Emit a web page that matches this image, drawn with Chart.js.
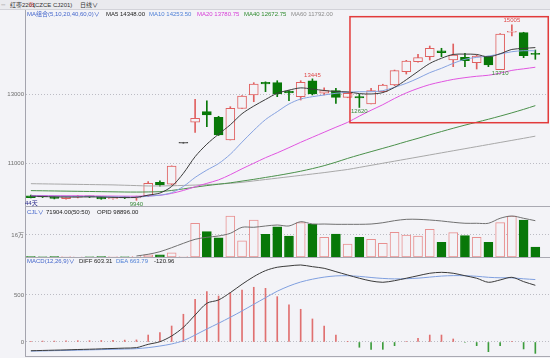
<!DOCTYPE html>
<html>
<head>
<meta charset="utf-8">
<script src="https://cdn.jsdelivr.net/npm/chart.js@4.4.1/dist/chart.umd.min.js"></script>
<style>
  body { margin: 0; width: 550px; height: 358px; background: #f3f3f7; overflow: hidden; position: relative;
         font-family: "Liberation Sans", Arial, "Noto Sans CJK SC", sans-serif; font-size: 6px; }
  .strip { position: absolute; left: 0; top: 0; width: 550px; height: 9px; background: #eaeaee; border-bottom: 1px solid #d2d2d8; }
  canvas { position: absolute; left: 0; }
  .t { position: absolute; white-space: nowrap; line-height: 6px; }
  .hl { position: absolute; left: 25px; width: 525px; height: 1px; background: #a9a9b2; }
</style>
</head>
<body>
<div class="strip"></div>
<div class="t" style="left:1px;top:2px;color:#777;font-size:4px;letter-spacing:-0.5px">○○</div>
<div class="t" style="left:10px;top:2px;color:#333">红枣2201</div>
<div class="t" style="left:28px;top:2px;color:#e03030">※</div>
<div class="t" style="left:33px;top:2px;color:#333">(CZCE CJ201)</div>
<div class="t" style="left:80px;top:2px;color:#333">日线∨</div>

<canvas id="price" width="550" height="196" style="top:10px"></canvas>
<canvas id="vol" width="550" height="51" style="top:206px"></canvas>
<canvas id="macd" width="550" height="99" style="top:257px"></canvas>
<div class="hl" style="top:206px"></div>
<div class="hl" style="top:257px"></div>
<div class="hl" style="top:356px"></div>

<div class="t" style="left:27px;top:11px;color:#4466cc">MA组合(5,10,20,40,60,0)∨</div>
<div class="t" style="left:106px;top:11px;color:#222">MA5 14348.00</div>
<div class="t" style="left:149px;top:11px;color:#4d7fd6">MA10 14253.50</div>
<div class="t" style="left:197px;top:11px;color:#d63cd6">MA20 13780.75</div>
<div class="t" style="left:244px;top:11px;color:#2e8b2e">MA40 12672.75</div>
<div class="t" style="left:291px;top:11px;color:#8c8c8c">MA60 11792.00</div>
<div class="t" style="left:25px;top:200px;color:#2a2a8a">44天</div>

<div class="t" style="left:27px;top:209px;color:#4466cc">CJL∨</div>
<div class="t" style="left:46px;top:209px;color:#222">71904.00(50:50)</div>
<div class="t" style="left:97px;top:209px;color:#222">OPID 98896.00</div>

<div class="t" style="left:27px;top:258px;color:#4466cc">MACD(12,26,9)∨</div>
<div class="t" style="left:79px;top:258px;color:#222">DIFF 603.31</div>
<div class="t" style="left:116px;top:258px;color:#4d7fd6">DEA 663.79</div>
<div class="t" style="left:154px;top:258px;color:#222">-120.96</div>

<script>
// daily candles, 44 days
const open = [10070, 10050, 10040, 9990, 10030, 10045, 10025, 9985, 10020, 10010,
  10074, 10460, 10403, 11586, 12192, 12498, 12336, 11681, 12590, 12980,
  13346, 13335, 13095, 12931, 13392, 13029, 13104, 12913, 12931, 12720,
  13075, 13268, 13653, 13941, 14085, 14258, 13990, 14066, 13912, 14085,
  13710, 14790, 14778, 14183];
const high = [10090, 10070, 10060, 10050, 10080, 10060, 10040, 10030, 10040, 10060,
  10480, 10500, 10935, 11586, 12856, 12815, 12365, 12642, 12960, 13335,
  13360, 13392, 13110, 13392, 13445, 13185, 13173, 13060, 13000, 13173,
  13290, 13700, 13980, 14154, 14394, 14328, 14452, 14183, 14134, 14100,
  14750, 15005, 14790, 14278];
const low = [10010, 10020, 9980, 9970, 10010, 10020, 9970, 9970, 9990, 9940,
  10050, 10350, 10380, 11586, 11903, 12065, 11810, 11681, 12590, 12786,
  13075, 12931, 12815, 12835, 12980, 12980, 12740, 12900, 12620, 12720,
  13060, 13250, 13585, 13930, 13990, 14085, 13797, 13797, 13730, 13797,
  13710, 14682, 14057, 14010];
const close = [10020, 10040, 9995, 10040, 10065, 10040, 9980, 10015, 10010, 10040,
  10431, 10382, 10931, 11586, 12307, 12403, 11825, 12596, 12945, 13297,
  13300, 13009, 13040, 13346, 13009, 13104, 12913, 13029, 12893, 13104,
  13268, 13681, 13961, 14057, 14328, 14200, 14134, 13970, 14105, 13845,
  14740, 14810, 14114, 14154];

const ma5 = [10060, 10050, 10040, 10035, 10035, 10040, 10035, 10025, 10020, 10025,
  10090, 10150, 10340, 10720, 11200, 11560, 11850, 12120, 12440, 12660,
  12850, 13029, 13120, 13185, 13150, 13110, 13080, 13070, 13020, 13009,
  13050, 13200, 13420, 13660, 13890, 14040, 14150, 14160, 14150, 14080,
  14170, 14295, 14325, 14348];
const ma10 = [10065, 10060, 10058, 10055, 10052, 10050, 10045, 10040, 10035, 10030,
  10060, 10090, 10160, 10340, 10600, 10812, 11000, 11270, 11620, 11960,
  12270, 12498, 12720, 12864, 12931, 12980, 13029, 13058, 13075, 13075,
  13104, 13202, 13317, 13462, 13624, 13750, 13894, 14010, 14066, 14105,
  14163, 14229, 14258, 14254];
const ma20 = [10080, 10078, 10075, 10072, 10070, 10068, 10065, 10062, 10060, 10058,
  10070, 10085, 10140, 10225, 10330, 10430, 10530, 10680, 10850, 11010,
  11170, 11310, 11460, 11615, 11760, 11905, 12050, 12190, 12370, 12540,
  12700, 12880, 13040, 13170, 13280, 13360, 13430, 13480, 13520, 13550,
  13610, 13690, 13735, 13781];
const ma40 = [10220, 10215, 10210, 10205, 10200, 10195, 10190, 10185, 10180, 10178,
  10182, 10190, 10225, 10270, 10320, 10365, 10405, 10445, 10495, 10545,
  10600, 10655, 10715, 10780, 10855, 10940, 11040, 11150, 11250, 11345,
  11440, 11535, 11635, 11730, 11830, 11925, 12020, 12110, 12195, 12280,
  12370, 12465, 12565, 12673];
const ma60 = [10420, 10415, 10410, 10405, 10400, 10395, 10390, 10385, 10375, 10365,
  10355, 10355, 10360, 10370, 10380, 10395, 10410, 10430, 10460, 10500,
  10540, 10580, 10620, 10660, 10700, 10740, 10785, 10830, 10890, 10950,
  11010, 11070, 11130, 11190, 11250, 11310, 11370, 11430, 11490, 11550,
  11610, 11670, 11730, 11792];

const vol = [2500, 1800, 3200, 2600, 2000, 1500, 2800, 2200, 1900, 4500,
  15000, 15000, 31000, 3000, 245000, 184000, 140000, 298000, 118000, 269000,
  165000, 220000, 153000, 250000, 238000, 143000, 167000, 94000, 143000, 128000,
  99000, 179000, 160000, 152000, 201000, 107000, 177000, 155000, 143000, 107000,
  250000, 298000, 269000, 71904];
const openInt = [null, null, null, null, null, null, null, null, null, 41600,
  44400, 48600, 55100, 62200, 68700, 72000, 74100, 78400, 88200, 88200,
  90300, 91900, 90300, 97300, 93500, 93500, 93000, 93000, 93000, 93500,
  95600, 98900, 101100, 101100, 100000, 98400, 96300, 94700, 94700, 94700,
  102800, 106500, 102800, 98896];

const diff = [-93, -90, -87, -84, -80, -77, -73, -69, -65, -60,
  -25, 3, 64, 156, 287, 412, 447, 525, 614, 695,
  759, 795, 809, 819, 801, 784, 748, 713, 678, 649,
  635, 652, 678, 705, 731, 741, 731, 705, 678, 635,
  660, 688, 642, 603];
const dea = [-97, -95, -92, -90, -87, -84, -81, -78, -75, -71,
  -60, -43, -21, 14, 74, 138, 199, 263, 330, 401,
  471, 540, 595, 638, 668, 690, 703, 705, 698, 686,
  676, 671, 673, 679, 690, 701, 706, 705, 699, 688,
  683, 682, 672, 664];
const macd = [8, 10, 10, 12, 14, 14, 16, 18, 20, 22,
  74, 99, 170, 295, 454, 535, 489, 525, 553, 582,
  571, 482, 394, 348, 245, 170, 74, 3, -56, -78,
  -78, -39, 5, 39, 74, 74, 32, -5, -39, -103,
  -39, 3, -74, -121];

const priceTicks = [11000, 13000];
const volTicks = [160000];
const macdTicks = [0, 500];
const highMarks = [24, 41];
const lowMarks = [9, 28, 40];
const boxX = [27.2, 44.1];
const boxY = [12180, 15240];

const BG = '#f3f3f7';
const RED = '#e06060';
const VRED = '#e89090';
const GREEN = '#087808';
const FONT = '"Liberation Sans", "Noto Sans CJK SC", sans-serif';

const xy = (arr) => arr.map((v, i) => ({ x: i, y: v }));
const xScale = { type: 'linear', min: -0.5, max: 44.25, display: false, offset: false };

function yAxis(min, max, ticks, fmt) {
  return {
    position: 'left',
    min: min,
    max: max,
    afterFit(s) {
      s.width = 25;
      s.paddingTop = 0;
      s.paddingBottom = 0;
    },
    afterBuildTicks(s) {
      s.ticks = ticks.map((v) => ({ value: v }));
    },
    ticks: { padding: 1, color: '#6e6e6e', font: { size: 6, family: FONT }, callback: fmt },
    grid: { color: '#bcbcc4', drawTicks: false },
    border: { display: true, color: '#a4a4ae', dash: [1, 2] },
  };
}

const baseOptions = {
  responsive: false,
  animation: false,
  events: [],
  devicePixelRatio: 1,
  layout: { padding: 0 },
  plugins: { legend: { display: false }, tooltip: { enabled: false } },
};

function lineSet(data, color, yAxisID) {
  return {
    type: 'line',
    data: xy(data),
    borderColor: color,
    borderWidth: 1,
    pointRadius: 0,
    tension: 0.3,
    order: 0,
    yAxisID: yAxisID || 'y',
  };
}

// candle colours
const candleColor = open.map((o, i) => {
  if (close[i] === o) return '#505050';
  return close[i] > o ? RED : GREEN;
});
const candleFill = open.map((o, i) => (close[i] > o ? BG : candleColor[i]));

// labels for highs / lows and the highlight box
const marksPlugin = {
  id: 'marks',
  afterDatasetsDraw(chart) {
    const { ctx, scales } = chart;
    const x = scales.x;
    const y = scales.y;
    ctx.save();
    ctx.strokeStyle = '#e23b3b';
    ctx.lineWidth = 1.5;
    const x0 = x.getPixelForValue(boxX[0]);
    const x1 = x.getPixelForValue(boxX[1]);
    const y0 = y.getPixelForValue(boxY[1]);
    const y1 = y.getPixelForValue(boxY[0]);
    ctx.strokeRect(x0, y0, x1 - x0, y1 - y0);

    ctx.font = '6px ' + FONT;
    ctx.textAlign = 'center';
    ctx.fillStyle = '#e04848';
    ctx.textBaseline = 'bottom';
    highMarks.forEach((i) => {
      ctx.fillText(String(high[i]), x.getPixelForValue(i), y.getPixelForValue(high[i]) - 1);
    });
    ctx.fillStyle = '#3a8a3a';
    ctx.textBaseline = 'top';
    lowMarks.forEach((i) => {
      ctx.fillText(String(low[i]), x.getPixelForValue(i), y.getPixelForValue(low[i]) + 1);
    });
    ctx.restore();
  },
};

// price panel
new Chart(document.getElementById('price'), {
  type: 'bar',
  data: {
    datasets: [
      lineSet(ma5, '#3c3c3c'),
      lineSet(ma10, '#86a2e0'),
      lineSet(ma20, '#e055e0'),
      lineSet(ma40, '#4a904a'),
      lineSet(ma60, '#a8a8a8'),
      {
        data: open.map((o, i) => ({ x: i, y: [o, close[i]] })),
        backgroundColor: candleFill,
        borderColor: candleColor,
        borderWidth: 1,
        borderSkipped: false,
        barThickness: 9,
        minBarLength: 1,
        grouped: false,
        order: 2,
      },
      {
        data: low.map((l, i) => ({ x: i, y: [l, high[i]] })),
        backgroundColor: candleColor,
        borderWidth: 0,
        barThickness: 1,
        minBarLength: 1,
        grouped: false,
        order: 3,
      },
    ],
  },
  options: Object.assign({}, baseOptions, {
    scales: { x: xScale, y: yAxis(9776, 15433, priceTicks, (v) => String(v)) },
  }),
  plugins: [marksPlugin],
});

// volume / open interest panel
new Chart(document.getElementById('vol'), {
  type: 'bar',
  data: {
    datasets: [
      lineSet(openInt, '#707070', 'oi'),
      {
        data: xy(vol),
        backgroundColor: close.map((c, i) => (c >= open[i] ? BG : GREEN)),
        borderColor: close.map((c, i) => (c >= open[i] ? VRED : GREEN)),
        borderWidth: 1,
        borderSkipped: false,
        barThickness: 9,
        grouped: false,
        order: 2,
      },
    ],
  },
  options: Object.assign({}, baseOptions, {
    scales: {
      x: xScale,
      y: yAxis(0, 370900, volTicks, (v) => v / 10000 + '万'),
      oi: { display: false, min: 40000, max: 122722 },
    },
  }),
});

// MACD panel
new Chart(document.getElementById('macd'), {
  type: 'bar',
  data: {
    datasets: [
      lineSet(diff, '#3a3a3a'),
      lineSet(dea, '#7f9fdf'),
      {
        data: xy(macd),
        backgroundColor: macd.map((v) => (v >= 0 ? '#e07070' : '#3c9c3c')),
        borderWidth: 0,
        barThickness: 1,
        grouped: false,
        order: 2,
      },
    ],
  },
  options: Object.assign({}, baseOptions, {
    scales: { x: xScale, y: yAxis(-149, 904, macdTicks, (v) => String(v)) },
  }),
});
</script>
</body>
</html>
